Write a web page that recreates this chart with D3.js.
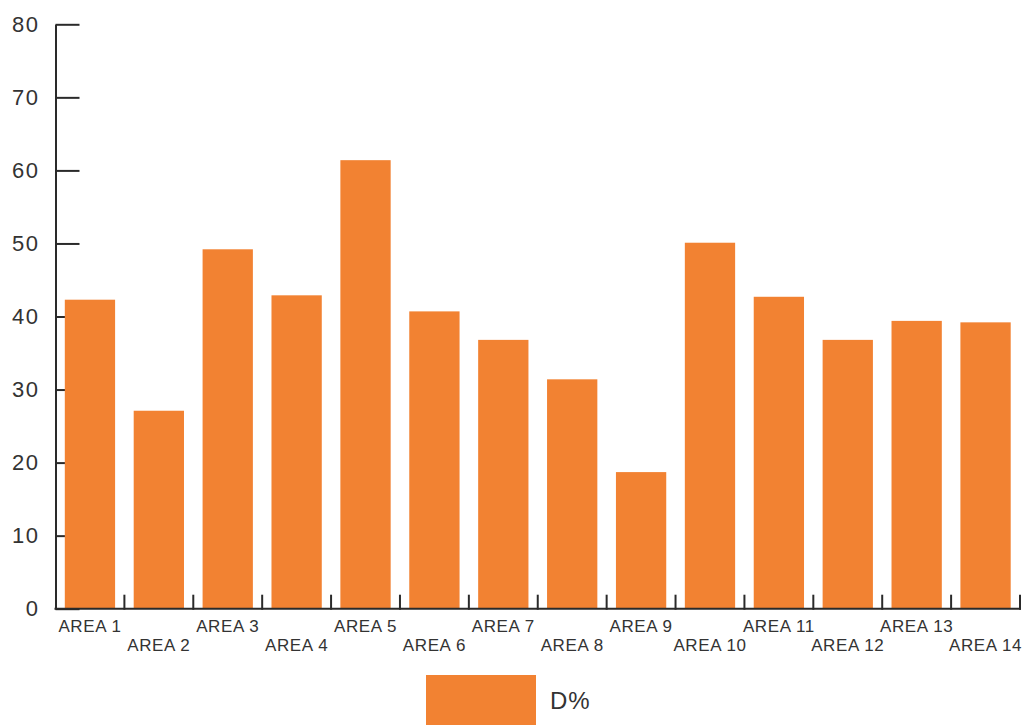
<!DOCTYPE html>
<html>
<head>
<meta charset="utf-8">
<script src="https://cdn.jsdelivr.net/npm/d3@7"></script>
<style>
  html, body { margin: 0; padding: 0; background: #fff; }
  svg { display: block; }
  text { font-family: "Liberation Sans", Arial, sans-serif; fill: #333; }
</style>
</head>
<body>
<svg id="chart" width="1023" height="725"></svg>
<script>
const categories = ["AREA 1","AREA 2","AREA 3","AREA 4","AREA 5","AREA 6","AREA 7","AREA 8","AREA 9","AREA 10","AREA 11","AREA 12","AREA 13","AREA 14"];
const values = [42.3, 27.1, 49.2, 42.9, 61.4, 40.7, 36.8, 31.4, 18.7, 50.1, 42.7, 36.8, 39.4, 39.2];
const seriesName = "D%";
const yTicks = [0, 10, 20, 30, 40, 50, 60, 70, 80];

const barColor = "#f28232";
const axisColor = "#2a2a2a";

const svg = d3.select("#chart");
const mLeft = 55.5, mRight = 1020, mTop = 24.3, mBottom = 608.7;
const pad = 0.27;

const x = d3.scaleBand().domain(categories).range([mLeft, mRight]).paddingInner(pad).paddingOuter(pad / 2);
const y = d3.scaleLinear().domain([0, 80]).range([mBottom, mTop]);

// Y axis (ticks pointing inward, drawn under bars)
const yAxis = svg.append("g")
  .attr("transform", `translate(${mLeft},0)`)
  .call(d3.axisLeft(y).tickValues(yTicks).tickSizeInner(-24).tickSizeOuter(0).tickPadding(16));
yAxis.select(".domain").attr("stroke", axisColor).attr("stroke-width", 2);
yAxis.selectAll(".tick line").attr("stroke", axisColor).attr("stroke-width", 2);
yAxis.selectAll(".tick text").attr("font-size", 22).attr("fill", "#333")
  .attr("font-family", "'Liberation Sans', Arial, sans-serif").style("letter-spacing", "1.5px");

// Bars
svg.append("g").selectAll("rect").data(values).join("rect")
  .attr("x", (d, i) => x(categories[i]))
  .attr("y", d => y(d))
  .attr("width", x.bandwidth())
  .attr("height", d => y(0) - y(d))
  .attr("fill", barColor);

// X axis baseline
svg.append("line")
  .attr("x1", mLeft - 1).attr("x2", mRight + 1)
  .attr("y1", mBottom).attr("y2", mBottom)
  .attr("stroke", axisColor).attr("stroke-width", 2);

// X boundary ticks (pointing up)
const boundaries = categories.map(c => x(c) + x.bandwidth() + x.step() * pad / 2);
svg.append("g").selectAll("line").data(boundaries).join("line")
  .attr("x1", d => d).attr("x2", d => d)
  .attr("y1", mBottom - 14).attr("y2", mBottom + 1)
  .attr("stroke", axisColor).attr("stroke-width", 2);

// X labels (staggered)
svg.append("g").selectAll("text").data(categories).join("text")
  .attr("x", c => x(c) + x.bandwidth() / 2)
  .attr("y", (c, i) => i % 2 === 0 ? 632 : 651)
  .attr("text-anchor", "middle")
  .attr("font-size", 17)
  .style("letter-spacing", "0.6px")
  .text(c => c);

// Legend
svg.append("rect").attr("x", 426).attr("y", 675).attr("width", 110).attr("height", 50).attr("fill", barColor);
svg.append("text").attr("x", 550).attr("y", 709).attr("font-size", 24).style("letter-spacing", "1px").text(seriesName);
</script>
</body>
</html>
